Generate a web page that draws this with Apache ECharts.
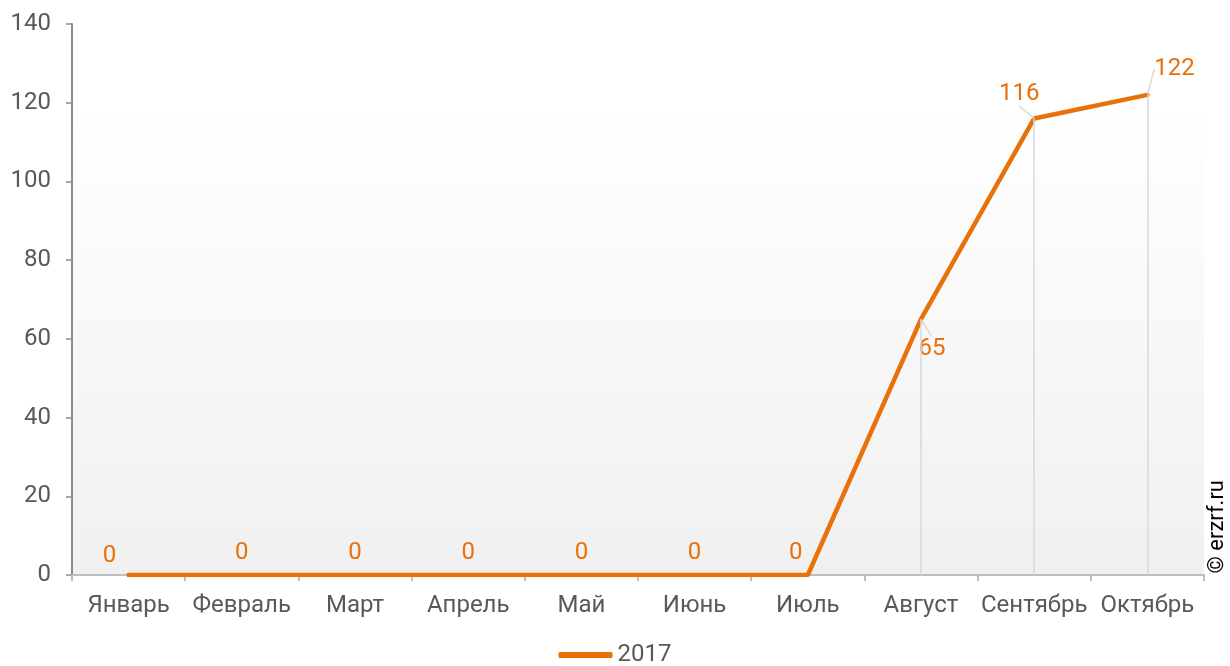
<!DOCTYPE html>
<html><head><meta charset="utf-8">
<script src="https://cdn.jsdelivr.net/npm/echarts@6/dist/echarts.min.js"></script>
<style>html,body{margin:0;padding:0;background:#fff}#c{width:1230px;height:666px}</style>
</head><body><div id="c"></div>
<script>
const categories = ['Январь','Февраль','Март','Апрель','Май','Июнь','Июль','Август','Сентябрь','Октябрь'];
const seriesName = '2017';
const values = [0,0,0,0,0,0,0,65,116,122];
const yTicks = [0,20,40,60,80,100,120,140];

const ORANGE = '#E8710A';
const TEXT = '#595959';
const FS = 24;
const labelShift = {0:[-19,3], 6:[-12,0], 7:[11,52], 8:[-15,-2], 9:[27,-3]};

const seriesData = values.map((v,i)=>({value:v, labelLine:{show: v>0}}));
const dropLines = values.map((v,i)=>v>0 ? [{coord:[i,v]},{coord:[i,0]}] : null).filter(Boolean);

const chart = echarts.init(document.getElementById('c'));
chart.setOption({
  animation:false,
  grid:{left:72,right:26,top:24,bottom:91,show:true,borderWidth:0,
    backgroundColor:new echarts.graphic.LinearGradient(0,0,0,1,[{offset:0,color:'#ffffff'},{offset:0.15,color:'#ffffff'},{offset:1,color:'#f0f0f0'}])},
  legend:{bottom:-6,left:'center',itemWidth:54,itemHeight:6,itemGap:2,icon:'roundRect',
    textStyle:{color:TEXT,fontSize:FS,fontFamily:'Roboto'},data:[seriesName]},
  xAxis:{type:'category',data:categories,boundaryGap:true,
    axisLine:{lineStyle:{color:'#bfbfbf',width:2}},
    axisTick:{show:true,length:6,lineStyle:{color:'#bfbfbf',width:2}},
    axisLabel:{color:TEXT,fontSize:FS,fontFamily:'Roboto',margin:19,interval:0},
    splitLine:{show:false}},
  yAxis:{type:'value',min:yTicks[0],max:yTicks[yTicks.length-1],interval:yTicks[1]-yTicks[0],
    axisLine:{show:true,lineStyle:{color:'#8c8c8c',width:2}},
    axisTick:{show:true,length:6,lineStyle:{color:'#8c8c8c',width:1.5}},
    axisLabel:{color:TEXT,fontSize:FS,fontFamily:'Roboto',margin:21},
    splitLine:{show:false}},
  series:[{
    name:seriesName,type:'line',data:seriesData,symbol:'circle',symbolSize:1,showSymbol:true,
    lineStyle:{color:ORANGE,width:4.5,cap:'round'},itemStyle:{color:ORANGE},
    label:{show:true,position:'top',distance:10,color:ORANGE,fontSize:FS,fontFamily:'Roboto'},
    labelLayout:function(p){const s=labelShift[p.dataIndex];return s?{dx:s[0],dy:s[1]}:{};},
    labelLine:{show:true,lineStyle:{color:'#d9d9d9',width:1.5}},
    markLine:{silent:true,symbol:'none',label:{show:false},
      lineStyle:{color:'#d9d9d9',width:1.5,type:'solid'},data:dropLines},
    z:3
  }],
  graphic:[{type:'text',right:2,top:480,rotation:Math.PI/2,
    style:{text:'© erzrf.ru',fill:'#000',font:'22px Roboto'}}]
});
</script></body></html>
